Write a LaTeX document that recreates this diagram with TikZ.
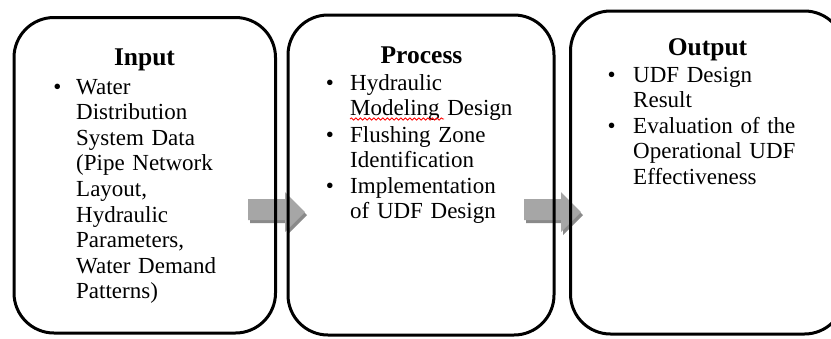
\documentclass[tikz,border=0pt]{standalone}
\usepackage{fontspec}
\setmainfont{Liberation Serif}
\usetikzlibrary{decorations.pathmorphing}

\definecolor{arrowfill}{HTML}{A6A6A6}
\definecolor{arrowshade}{HTML}{8A8A8A}
\newcommand{\bodyfont}{\fontsize{23}{25.6}\selectfont}
\newcommand{\headfont}{\fontsize{25.5}{28}\selectfont\bfseries}

\tikzset{
  stage/.style={draw=black, line width=3pt, rounded corners=40pt,
    inner sep=0pt, outer sep=0pt},
  stagetitle/.style={anchor=base, inner sep=0pt, font=\headfont},
  itemtext/.style={anchor=base west, inner sep=0pt, align=left,
    text width=230pt, font=\bodyfont},
  dot/.style={anchor=base, inner sep=0pt, font=\bodyfont},
  spellmark/.style={draw=red, line width=0.8pt, decorate,
    decoration={snake, amplitude=1.1pt, segment length=4.5pt}},
  blockarrow/.pic={
    \fill[arrowshade] (2,3) -- (39,3) -- (39,-4) -- (59,16) -- (39,36)
      -- (39,24) -- (2,24) -- cycle;
    \fill[arrowfill] (0,0) -- (37,0) -- (37,-7) -- (57,13) -- (37,33)
      -- (37,21) -- (0,21) -- cycle;
  }
}

\begin{document}
\begin{tikzpicture}[x=1pt,y=-1pt]
\useasboundingbox (0,0) rectangle (831,338);
\clip (0,0) rectangle (831,338);

% block arrows between the stages
\pic (arrowA) at (248,199) {blockarrow};
\pic (arrowB) at (524,199) {blockarrow};

% stage frames
\node[stage, minimum width=261.5pt, minimum height=315.5pt] (input) at (144.75,175.25) {};
\node[stage, minimum width=266pt, minimum height=320pt] (process) at (421,175) {};
\node[stage, minimum width=274pt, minimum height=323pt] (output) at (707.5,172.5) {};

% Input
\node[stagetitle] (inTitle) at (144.5,65) {Input};
\node[dot] (inDot1) at (57.5,94) {•};
\node[itemtext] (inItem1) at (76,94) {Water\\Distribution\\System Data\\(Pipe Network\\Layout,\\Hydraulic\\Parameters,\\Water Demand\\Patterns)};

% Process
\node[stagetitle] (prTitle) at (421.5,63) {Process};
\node[dot] (prDot1) at (330,90) {•};
\node[itemtext] (prItem1) at (350,90) {Hydraulic\\Modeling Design};
\node[dot] (prDot2) at (330,142) {•};
\node[itemtext] (prItem2) at (350,142) {Flushing Zone\\Identification};
\node[dot] (prDot3) at (330,193) {•};
\node[itemtext] (prItem3) at (350,193) {Implementation\\of UDF Design};
\draw[spellmark] (350,119) -- (444,119);

% Output
\node[stagetitle] (ouTitle) at (707.5,55) {Output};
\node[dot] (ouDot1) at (611.7,82) {•};
\node[itemtext] (ouItem1) at (633,82) {UDF Design\\Result};
\node[dot] (ouDot2) at (611.7,133) {•};
\node[itemtext] (ouItem2) at (633,133) {Evaluation of the\\Operational UDF\\Effectiveness};
\end{tikzpicture}
\end{document}
